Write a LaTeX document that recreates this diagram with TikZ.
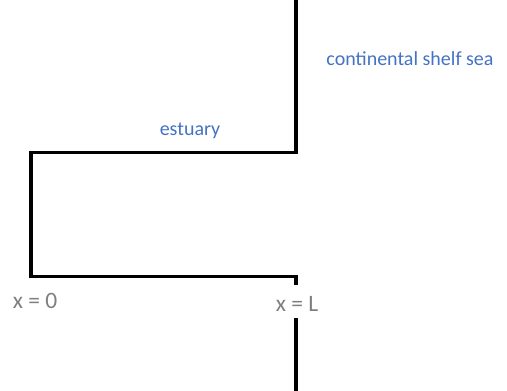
\documentclass[tikz,border=0pt]{standalone}
\usepackage{fontspec}
\setmainfont{Carlito}
\definecolor{labelblue}{HTML}{4472C4}
\definecolor{labelgray}{HTML}{7F7F7F}
\begin{document}
\begin{tikzpicture}[x=1pt,y=-1pt,
  wall/.style={line width=3.6pt,line cap=butt,line join=miter,black},
  bluelabel/.style={text=labelblue,font=\fontsize{20}{24}\selectfont,inner sep=0pt,anchor=center},
  graylabel/.style={text=labelgray,font=\fontsize{23.5}{28}\selectfont,inner sep=0pt,anchor=center}]
\useasboundingbox (0,0) rectangle (507,391);
\coordinate (topR) at (296,0);
\coordinate (cornerTR) at (296,152.5);
\coordinate (cornerTL) at (31,152.5);
\coordinate (cornerBL) at (31,276.5);
\coordinate (cornerBR) at (296,276.5);
\coordinate (tickEnd) at (296,285);
\coordinate (lowStart) at (296,318);
\coordinate (lowEnd) at (296,391);
\draw[wall] (topR) -- (cornerTR) -- (cornerTL) -- (cornerBL) -- (cornerBR) -- (tickEnd);
\draw[wall] (lowStart) -- (lowEnd);
\node[bluelabel] (shelf) at (410,59) {continental shelf sea};
\node[bluelabel] (estuary) at (190,131) {estuary};
\node[graylabel] (x0) at (35,301) {x = 0};
\node[graylabel] (xL) at (297,304) {x = L};
\end{tikzpicture}
\end{document}
